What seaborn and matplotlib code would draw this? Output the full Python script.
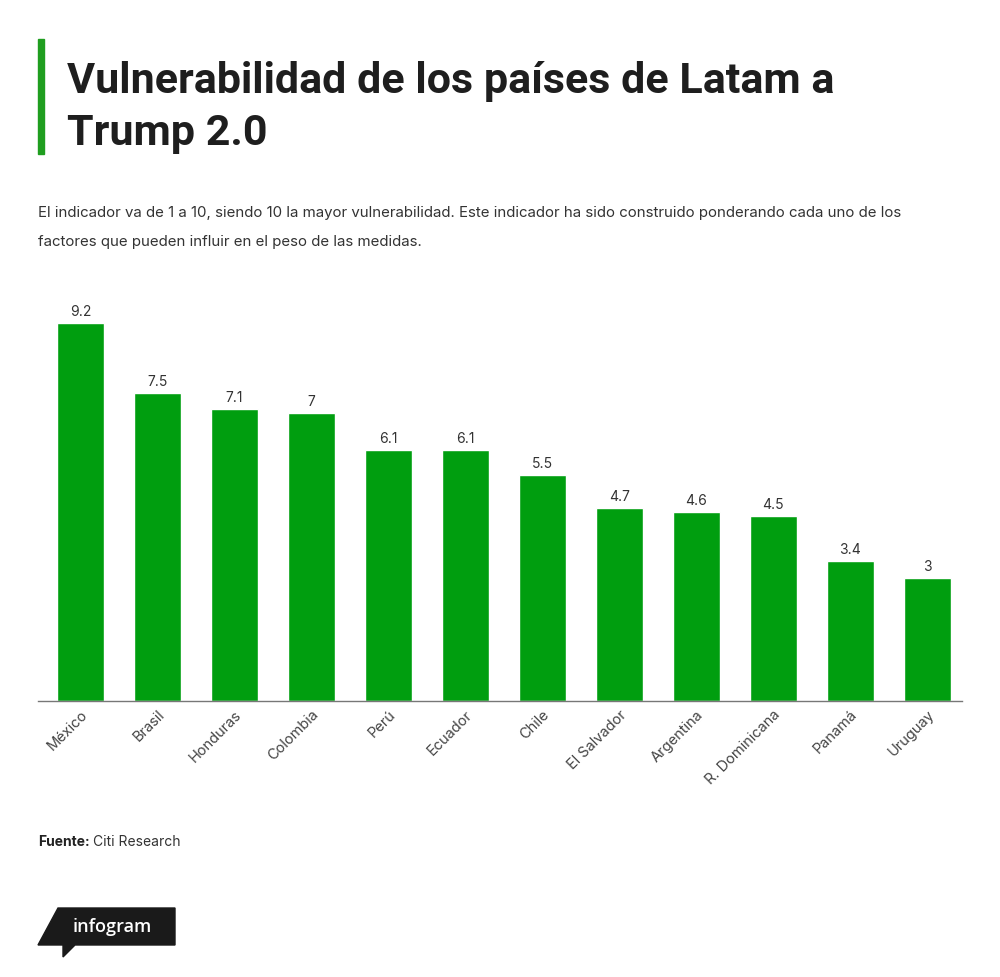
import matplotlib
matplotlib.use('Agg')
import matplotlib.pyplot as plt
import seaborn as sns
import pandas as pd
from matplotlib.patches import Polygon, Rectangle

# data
paises = ['México', 'Brasil', 'Honduras', 'Colombia', 'Perú', 'Ecuador', 'Chile',
          'El Salvador', 'Argentina', 'R. Dominicana', 'Panamá', 'Uruguay']
valores = [9.2, 7.5, 7.1, 7, 6.1, 6.1, 5.5, 4.7, 4.6, 4.5, 3.4, 3]
etiquetas = ['9.2', '7.5', '7.1', '7', '6.1', '6.1', '5.5', '4.7', '4.6', '4.5', '3.4', '3']

df = pd.DataFrame({'pais': paises, 'valor': valores})

sns.set_style('white')
plt.rcParams['font.family'] = ['Inter', 'DejaVu Sans']

fig = plt.figure(figsize=(10, 9.78), dpi=100)
ax = fig.add_axes([0.038, 0.2822, 0.924, 0.4202])

sns.barplot(data=df, x='pais', y='valor', color='#009e0f', saturation=1, width=0.61, ax=ax)

ax.set_ylim(0, 10)
ax.set_xlim(-0.55, 11.45)
for i, (v, t) in enumerate(zip(valores, etiquetas)):
    ax.text(i, v + 0.12, t, ha='center', va='bottom', fontsize=10, color='#333333')

ax.set_xlabel('')
ax.set_ylabel('')
ax.set_yticks([])
for s in ['top', 'right', 'left']:
    ax.spines[s].set_visible(False)
ax.spines['bottom'].set_color('#777777')
ax.spines['bottom'].set_linewidth(1)
ax.tick_params(axis='x', length=0, pad=4)
plt.setp(ax.get_xticklabels(), rotation=45, ha='right', rotation_mode='anchor',
         fontsize=10.5, color='#444444')

# title
fig.patches.append(Rectangle((0.038, 1 - 155 / 978), 0.006, 115 / 978,
                             transform=fig.transFigure, color='#1f9e1f'))
tfam = ['Roboto', 'DejaVu Sans']
fig.text(0.067, 1 - 93 / 978, 'Vulnerabilidad de los países de Latam a', fontsize=31,
         fontweight='bold', color='#1e1e1e', va='baseline', family=tfam)
fig.text(0.067, 1 - 145 / 978, 'Trump 2.0', fontsize=31,
         fontweight='bold', color='#1e1e1e', va='baseline', family=tfam)

fig.text(0.038, 1 - 217 / 978,
         'El indicador va de 1 a 10, siendo 10 la mayor vulnerabilidad. Este indicador ha sido construido ponderando cada uno de los',
         fontsize=10.8, color='#333333', va='baseline')
fig.text(0.038, 1 - 246 / 978, 'factores que pueden influir en el peso de las medidas.',
         fontsize=10.8, color='#333333', va='baseline')

# source
fig.text(0.038, 1 - 846 / 978, 'Fuente:', fontsize=10, fontweight='bold',
         color='#222222', va='baseline')
fig.text(0.093, 1 - 846 / 978, 'Citi Research', fontsize=10, color='#333333', va='baseline')

# infogram logo
H = 978
pts = [(38, 946), (58, 909), (175, 909), (175, 946), (75, 946), (63, 958), (63, 946)]
pts = [(x / 1000, 1 - y / H) for x, y in pts]
fig.patches.append(Polygon(pts, closed=True, transform=fig.transFigure, color='#1a1a1a'))
fig.text(0.112, 1 - 927 / H, 'infogram', fontsize=13, color='white', va='center',
         ha='center', family=['Open Sans', 'DejaVu Sans'], fontweight='semibold')

fig.savefig('out.png', dpi=100, facecolor='white')
